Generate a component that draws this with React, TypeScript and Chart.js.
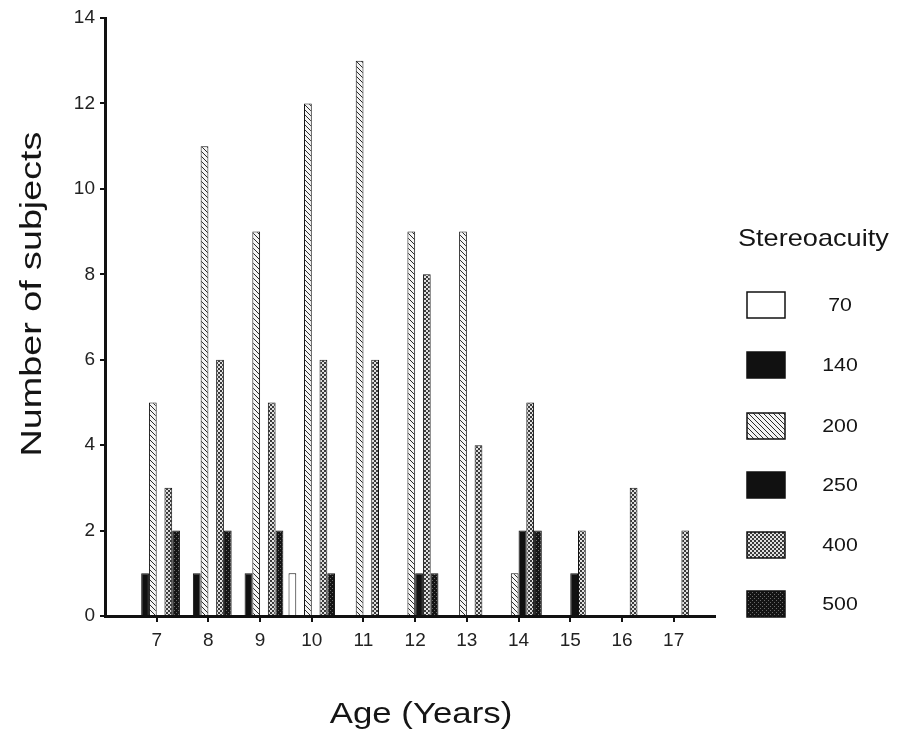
import { useEffect, useRef } from "react";
import { Chart, registerables } from "chart.js";
Chart.register(...registerables);

const AGES = [7, 8, 9, 10, 11, 12, 13, 14, 15, 16, 17];
const SERIES_LABELS = ["70", "140", "200", "250", "400", "500"];
const S70 = [0, 0, 0, 1, 0, 0, 0, 0, 0, 0, 0];
const S140 = [1, 1, 1, 0, 0, 0, 0, 0, 0, 0, 0];
const S200 = [5, 11, 9, 12, 13, 9, 9, 1, 0, 0, 0];
const S250 = [0, 0, 0, 0, 0, 1, 0, 2, 1, 0, 0];
const S400 = [3, 6, 5, 6, 6, 8, 4, 5, 2, 3, 2];
const S500 = [2, 2, 2, 1, 0, 1, 0, 2, 0, 0, 0];
const X_TITLE = "Age (Years)";
const Y_TITLE = "Number of subjects";
const LEGEND_TITLE = "Stereoacuity";

const FONT = '"Liberation Sans", Arial, sans-serif';

function makePattern(size: number, draw: (g: CanvasRenderingContext2D, s: number) => void) {
  const c = document.createElement("canvas");
  c.width = size;
  c.height = size;
  const g = c.getContext("2d")!;
  draw(g, size);
  return g.createPattern(c, "repeat")!;
}

function stretchedText(ctx: CanvasRenderingContext2D, text: string, x: number, y: number, sx: number, rot = 0) {
  ctx.save();
  ctx.translate(x, y);
  ctx.rotate(rot);
  ctx.scale(sx, 1);
  ctx.fillText(text, 0, 0);
  ctx.restore();
}

export default function App() {
  const ref = useRef<HTMLCanvasElement>(null);

  useEffect(() => {
    const hatch = makePattern(5, (g, s) => {
      g.fillStyle = "#f4f4f4";
      g.fillRect(0, 0, s, s);
      g.strokeStyle = "#2a2a2a";
      g.lineWidth = 1;
      for (const x0 of [-s, 0, s]) {
        g.beginPath();
        g.moveTo(x0, 0);
        g.lineTo(x0 + s, s);
        g.stroke();
      }
    });
    const check = makePattern(4, (g) => {
      g.fillStyle = "#3a3a3a";
      g.fillRect(0, 0, 4, 4);
      g.fillStyle = "#e0e0e0";
      g.fillRect(0, 0, 2, 2);
      g.fillRect(2, 2, 2, 2);
    });
    const dark = makePattern(4, (g) => {
      g.fillStyle = "#141414";
      g.fillRect(0, 0, 4, 4);
      g.fillStyle = "#6a6a6a";
      g.fillRect(0, 0, 1, 1);
      g.fillRect(2, 2, 1, 1);
    });

    const seriesValues = [S70, S140, S200, S250, S400, S500];
    const fills: any[] = ["#ffffff", "#111111", hatch, "#111111", check, dark];

    const datasets = seriesValues.map((vals, i) => ({
      label: SERIES_LABELS[i],
      data: vals.map((v, j) => ({ x: AGES[j], y: v })),
      backgroundColor: fills[i],
      borderColor: "#111",
      borderWidth: 1,
      categoryPercentage: 0.9,
      barPercentage: 1,
    }));

    const annot = {
      id: "annot",
      afterDraw(chart: any) {
        const ctx = chart.ctx as CanvasRenderingContext2D;
        ctx.save();
        ctx.fillStyle = "#151515";
        ctx.textAlign = "center";
        ctx.textBaseline = "middle";
        ctx.font = `29px ${FONT}`;
        stretchedText(ctx, X_TITLE, 421, 715, 1.2);
        stretchedText(ctx, Y_TITLE, 33, 294, 1.3, -Math.PI / 2);

        ctx.textAlign = "left";
        ctx.font = `24px ${FONT}`;
        stretchedText(ctx, LEGEND_TITLE, 738, 239, 1.13);
        const centers = [305, 365, 426, 485, 545, 604];
        chart.data.datasets.forEach((ds: any, i: number) => {
          const cy = centers[i];
          ctx.fillStyle = ds.backgroundColor;
          ctx.fillRect(747, cy - 13, 38, 26);
          ctx.strokeStyle = "#111";
          ctx.lineWidth = 1.5;
          ctx.strokeRect(747, cy - 13, 38, 26);
          ctx.fillStyle = "#151515";
          ctx.textAlign = "center";
          ctx.font = `19px ${FONT}`;
          stretchedText(ctx, ds.label, 840, cy + 1, 1.12);
        });
        ctx.restore();
      },
    };

    const chart = new Chart(ref.current!, {
      type: "bar",
      data: { datasets },
      options: {
        animation: false,
        responsive: false,
        layout: { padding: { left: 0, right: 183, top: 18, bottom: 0 } },
        plugins: { legend: { display: false }, tooltip: { enabled: false } },
        scales: {
          x: {
            type: "linear",
            min: 6,
            max: 17.8,
            offset: false,
            afterBuildTicks: (scale: any) => {
              scale.ticks = AGES.map((v) => ({ value: v }));
            },
            afterFit: (scale: any) => {
              scale.height = 120;
            },
            grid: {
              offset: false,
              drawOnChartArea: false,
              drawTicks: true,
              tickLength: 6,
              color: "#111",
              lineWidth: 2,
            },
            border: { display: true, color: "#111", width: 3 },
            ticks: {
              autoSkip: false,
              maxRotation: 0,
              padding: 7,
              color: "#222",
              font: { family: FONT, size: 19 },
              callback: (v: any) => String(v),
            },
          },
          y: {
            min: 0,
            max: 14,
            afterFit: (scale: any) => {
              scale.width = 105;
            },
            grid: {
              drawOnChartArea: false,
              drawTicks: true,
              tickLength: 5,
              color: "#111",
              lineWidth: 2,
            },
            border: { display: true, color: "#111", width: 3 },
            ticks: {
              stepSize: 2,
              padding: 5,
              color: "#222",
              font: { family: FONT, size: 19 },
            },
          },
        },
      },
      plugins: [annot],
    } as any);
    return () => chart.destroy();
  }, []);

  return (
    <div style={{ position: "fixed", left: 0, top: 0, width: 898, height: 736, background: "#fff" }}>
      <canvas ref={ref} width={898} height={736} style={{ display: "block" }} />
    </div>
  );
}
